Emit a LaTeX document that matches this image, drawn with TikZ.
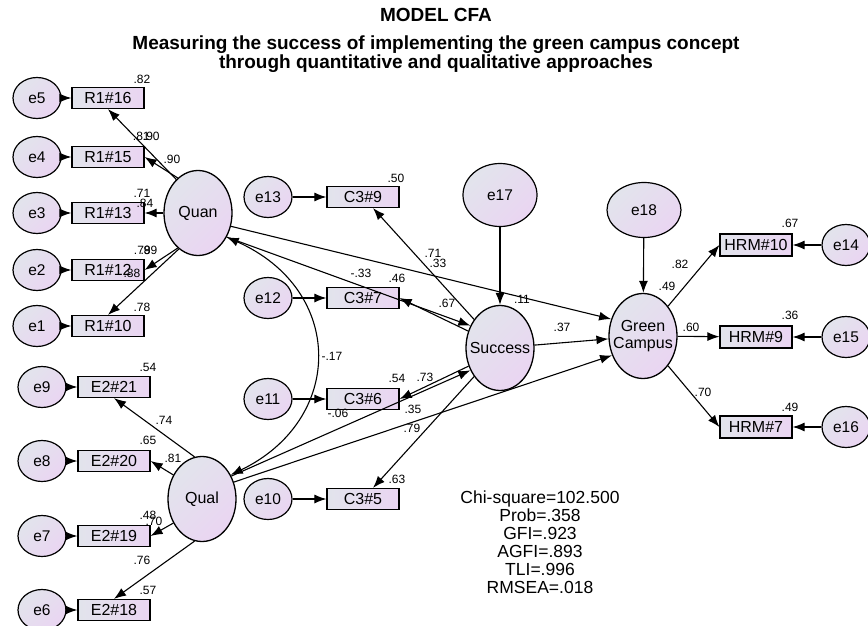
\documentclass[tikz,border=0pt]{standalone}
\usepackage{fontspec}
\setmainfont{Liberation Sans}
\usetikzlibrary{shapes.geometric,arrows.meta}
\definecolor{fillA}{HTML}{E2E4EC}
\definecolor{fillB}{HTML}{EAD5F2}

\begin{document}
\begin{tikzpicture}[
        x=1pt, y=-1pt,
        latent/.style={ellipse, draw, line width=1.3pt, minimum width=68pt, minimum height=85pt,
            inner sep=-10pt, top color=fillA, bottom color=fillB, shading angle=45, align=center,
            font=\fontsize{16}{17.5}\selectfont},
        err/.style={ellipse, draw, line width=1.2pt, minimum width=48pt, minimum height=41pt,
            inner sep=0pt, top color=fillA, bottom color=fillB, shading angle=45,
            font=\fontsize{15.5}{17}\selectfont},
        item/.style={rectangle, draw, line width=1.2pt, minimum width=72pt, minimum height=21pt,
            inner sep=0pt, left color=fillA, right color=fillB, font=\fontsize{16}{17}\selectfont},
        regr/.style={-{Latex[length=12pt,width=9pt]}, line width=1.1pt},
        cov/.style={{Latex[length=12pt,width=9pt]}-{Latex[length=12pt,width=9pt]}, line width=1.1pt},
        coef/.style={font=\fontsize{12}{13}\selectfont, inner sep=0pt},
        heading/.style={font=\bfseries\fontsize{19}{21}\selectfont, inner sep=0pt, anchor=base}
    ]
        \useasboundingbox (0,0) rectangle (868,626);

        % Title
        \node[heading] (t1) at (436,22) {MODEL CFA};
        \node[heading] (t2) at (436,50) {Measuring the success of implementing the green campus concept};
        \node[heading] (t3) at (436,69) {through quantitative and qualitative approaches};

        % Latent variables
        \node[latent] (quan) at (198,213) {Quan};
        \node[latent] (qual) at (202,499) {Qual};
        \node[latent] (success) at (500,348) {Success};
        \node[latent] (green) at (643,336) {Green\\Campus};

        % Indicators of Quan
        \node[item] (r16) at (108,98) {R1\#16};
        \node[item] (r15) at (108,157) {R1\#15};
        \node[item] (r13) at (108,213) {R1\#13};
        \node[item] (r12) at (108,270) {R1\#12};
        \node[item] (r10) at (108,326) {R1\#10};
        \node[err] (e5) at (37,98) {e5};
        \node[err] (e4) at (37,157) {e4};
        \node[err] (e3) at (37,213) {e3};
        \node[err] (e2) at (37,270) {e2};
        \node[err] (e1) at (37,326) {e1};

        % Indicators of Qual
        \node[item] (q21) at (114,387) {E2\#21};
        \node[item] (q20) at (114,461) {E2\#20};
        \node[item] (q19) at (114,536) {E2\#19};
        \node[item] (q18) at (114,610) {E2\#18};
        \node[err] (e9) at (42,387) {e9};
        \node[err] (e8) at (42,461) {e8};
        \node[err] (e7) at (42,536) {e7};
        \node[err] (e6) at (42,610) {e6};

        % Indicators of Success
        \node[item] (c9) at (363,197) {C3\#9};
        \node[item] (c7) at (363,298) {C3\#7};
        \node[item] (c6) at (363,399) {C3\#6};
        \node[item] (c5) at (363,499) {C3\#5};
        \node[err] (e13) at (268,197) {e13};
        \node[err] (e12) at (268,298) {e12};
        \node[err] (e11) at (268,399) {e11};
        \node[err] (e10) at (268,499) {e10};

        % Indicators of Green Campus
        \node[item, minimum height=22pt] (h10) at (756,245) {HRM\#10};
        \node[item, minimum height=22pt] (h9) at (756,337) {HRM\#9};
        \node[item, minimum height=22pt] (h7) at (756,427) {HRM\#7};
        \node[err] (e14) at (846,245) {e14};
        \node[err] (e15) at (846,337) {e15};
        \node[err] (e16) at (846,427) {e16};

        % Disturbances
        \node[err, minimum width=74pt, minimum height=63pt] (e17) at (500,195) {e17};
        \node[err, minimum width=74pt, minimum height=55pt] (e18) at (644,210) {e18};

        % Error terms
        \foreach \e/\b in {e5/r16, e4/r15, e3/r13, e2/r12, e1/r10, e9/q21, e8/q20, e7/q19, e6/q18,
                e13/c9, e12/c7, e11/c6, e10/c5, e14/h10, e15/h9, e16/h7}
            \draw[regr] (\e) -- (\b);

        % Loadings
        \draw[regr] (quan.123) -- (r16.south);
        \draw[regr] (quan.120) -- (r15.east);
        \draw[regr] (quan) -- (r13);
        \draw[regr] (quan.-120) -- (r12.east);
        \draw[regr] (quan.-118) -- (r10.north);
        \draw[regr] (qual.100) -- (q21.south);
        \draw[regr] (qual.140) -- (q20.east);
        \draw[regr] (qual.-140) -- (q19.east);
        \draw[regr] (qual.-100) -- (q18.north);
        \draw[regr] (success) -- (c9);
        \draw[regr] (success.152) -- (c7.east);
        \draw[regr] (success.-150) -- (c6.east);
        \draw[regr] (success) -- (c5);
        \draw[regr] (green) -- (h10.west);
        \draw[regr] (green) -- (h9);
        \draw[regr] (green) -- (h7.west);

        % Structural paths
        \draw[regr] (quan.-40) -- (success.143);
        \draw[regr] (qual.38) -- (success.-143);
        \draw[regr] (quan.-22) -- (green.152);
        \draw[regr] (qual.28) -- (green.-148);
        \draw[regr] (success) -- (green);
        \draw[regr] (e17) -- (success);
        \draw[regr] (e18) -- (green);
        \draw[cov] (quan.-40) .. controls +(119,53) and +(114,-55) .. (qual.40);

        % Estimates
        \foreach \x/\y/\t [count=\k] in {
                142/79/.82, 141.3/136/.81, 151.3/136/.90, 172/159/.90, 142/193/.71, 145/203/.84,
                142.3/250/.79, 149/250/.89, 132/273/.88, 142/307/.78,
                148/367/.54, 164/420/.74, 148/440/.65, 173/458/.81, 148/515/.48, 154/521/.70,
                142/560/.76, 148/590/.57,
                396/178/.50, 361/273/-.33, 397/278/.46, 433/253/.71, 438/263/.33, 447/303/.67,
                332/356/-.17, 397/378/.54, 425/377/.73, 338/413/-.06, 413/409/.35, 412/428/.79,
                397/479/.63, 522/299/.11, 562/327/.37,
                667/286/.49, 680/264/.82, 691/327/.60, 703/392/.70,
                790/223/.67, 790/315/.36, 790/407/.49}
            \node[coef] (est\k) at (\x,\y) {\t};

        % Fit indices
        \node[align=center, inner sep=0pt, font=\fontsize{17.5}{18}\selectfont] (fit) at (540,542) {
            Chi-square=102.500\\
            Prob=.358\\
            GFI=.923\\
            AGFI=.893\\
            TLI=.996\\
            RMSEA=.018
        };

    \end{tikzpicture}
\end{document}
